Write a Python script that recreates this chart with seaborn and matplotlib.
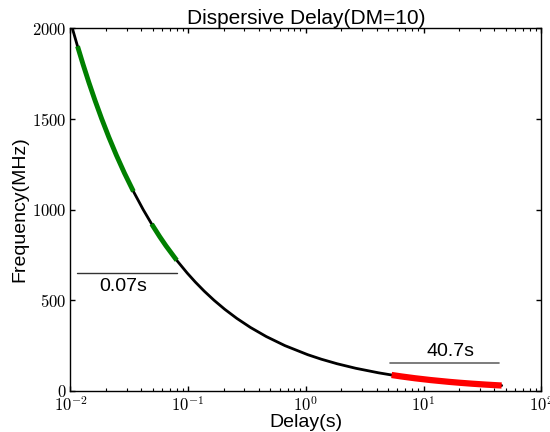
import math
import matplotlib
matplotlib.use("Agg")
import matplotlib.pyplot as plt
import seaborn as sns
import pandas as pd
from matplotlib.ticker import FuncFormatter, LogLocator, NullFormatter

# Data (frequency in MHz, delay in s)
freq_mhz = [2000, 1900, 1800, 1700, 1600, 1500, 1400, 1300, 1200, 1100, 1000,
            920, 850, 800, 720, 650, 600, 550, 500, 450, 400, 350, 300, 250,
            200, 175, 150, 125, 100, 88, 80, 70, 60, 50, 45, 40, 35, 30]
delay_s = [0.010375, 0.011496, 0.012809, 0.014360, 0.016211, 0.018444, 0.021173,
           0.024556, 0.028819, 0.034298, 0.0415, 0.049031, 0.057439, 0.064844,
           0.080054, 0.098225, 0.115278, 0.137190, 0.166, 0.204938, 0.259375,
           0.338776, 0.461111, 0.664, 1.0375, 1.355102, 1.844444, 2.656, 4.15,
           5.359, 6.484, 8.469, 11.528, 16.6, 20.494, 25.9375, 33.878, 46.111]
green_band1 = (1100, 1900)
green_band2 = (720, 920)
red_band = (30, 88)
low_width_label = "0.07s"
high_width_label = "40.7s"

df = pd.DataFrame({"delay": delay_s, "freq": freq_mhz})

sns.set_style("ticks")
plt.rcParams.update({
    "mathtext.fontset": "cm",
    "font.family": ["Liberation Sans", "DejaVu Sans"],
    "text.color": "black",
    "axes.labelcolor": "black",
    "axes.edgecolor": "black",
    "xtick.color": "black",
    "ytick.color": "black",
})

fig, ax = plt.subplots(figsize=(5.5, 4.32), dpi=100)
fig.subplots_adjust(left=0.128, right=0.984, top=0.935, bottom=0.095)

sns.lineplot(data=df, x="delay", y="freq", sort=False, color="black", lw=2, ax=ax)

def band(lo, hi):
    return df[(df["freq"] >= lo) & (df["freq"] <= hi)]

sns.lineplot(data=band(*green_band1), x="delay", y="freq", sort=False, color="green",
             lw=3.5, solid_capstyle="butt", ax=ax)
sns.lineplot(data=band(*green_band2), x="delay", y="freq", sort=False, color="green",
             lw=3.5, solid_capstyle="butt", ax=ax)
sns.lineplot(data=band(*red_band), x="delay", y="freq", sort=False, color="red",
             lw=4.5, solid_capstyle="butt", ax=ax)

ax.set_xscale("log")
ax.set_xlim(1e-2, 1e2)
ax.set_ylim(0, 2000)
ax.set_yticks([0, 500, 1000, 1500, 2000])
ax.yaxis.set_major_formatter(FuncFormatter(lambda v, p: r"$%d$" % v))
ax.xaxis.set_major_locator(LogLocator(base=10))
ax.xaxis.set_major_formatter(FuncFormatter(lambda v, p: r"$10^{%d}$" % round(math.log10(v))))
ax.xaxis.set_minor_locator(LogLocator(base=10, subs=range(2, 10)))
ax.xaxis.set_minor_formatter(NullFormatter())

ax.tick_params(which="both", direction="in", top=True, right=True, labelsize=12)
ax.tick_params(which="major", length=3.5, width=1.0, pad=3)
ax.tick_params(which="minor", length=2, width=0.8)
for s in ax.spines.values():
    s.set_linewidth(1.0)

# annotation lines
ax.plot([0.0113, 0.080], [650, 650], color="#333333", lw=1)
ax.text(0.0282, 578, low_width_label, ha="center", va="center", fontsize=14)
ax.plot([5.2, 43.5], [155, 155], color="#666666", lw=1.2)
ax.text(16.9, 220, high_width_label, ha="center", va="center", fontsize=14)

ax.set_title("Dispersive Delay(DM=10)", fontsize=15, pad=3)
ax.set_xlabel("Delay(s)", fontsize=14, labelpad=0)
ax.set_ylabel("Frequency(MHz)", fontsize=14, labelpad=2)

fig.savefig("out.png", dpi=100)
